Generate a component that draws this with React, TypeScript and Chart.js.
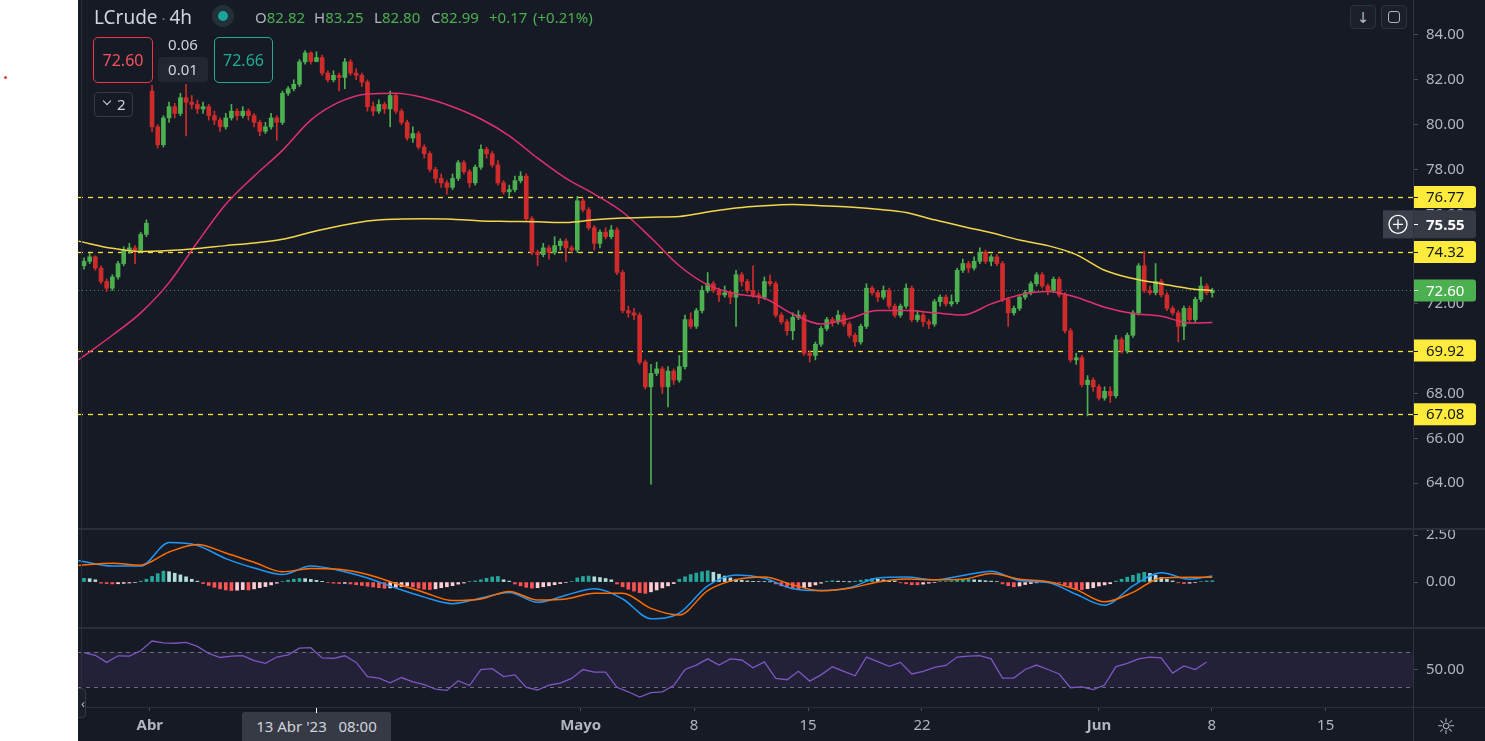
import { useEffect, useRef } from "react";
import { Chart, registerables } from "chart.js";

Chart.register(...registerables);

const FONT = "'Noto Sans', 'DejaVu Sans', sans-serif";
const BG = "#161A25";
const UP = "#4CAF50";
const DOWN = "#D02B2B";
const AXIS_TEXT = "#B2B5BE";

// 4h candles, index 0 = first candle on the left
const opens = [
  73.70, 73.90, 74.10, 73.60, 73.00, 72.70, 73.20, 73.80, 74.40, 74.50,
  74.40, 75.10, 81.50, 79.90, 79.10, 80.30, 80.80, 80.50, 81.20, 81.00,
  80.90, 80.70, 80.80, 80.40, 80.20, 79.90, 80.30, 80.60, 80.40, 80.60,
  80.40, 80.10, 79.70, 79.90, 80.30, 80.10, 81.40, 81.60, 81.80, 82.80,
  83.20, 82.82, 82.99, 82.30, 82.00, 82.20, 82.10, 82.80, 82.30, 82.20,
  81.90, 80.80, 80.60, 80.90, 80.70, 81.30, 80.60, 80.10, 79.40, 79.60,
  79.00, 78.70, 78.00, 77.60, 77.40, 77.20, 77.60, 78.30, 77.90, 77.40,
  78.10, 78.90, 78.70, 78.20, 77.40, 77.00, 77.10, 77.50, 77.70, 75.80,
  74.30, 74.20, 74.50, 74.30, 74.60, 74.80, 74.50, 74.40, 76.60, 76.20,
  75.40, 74.70, 75.20, 75.00, 75.30, 73.40, 71.70, 71.60, 71.50, 69.40,
  68.30, 68.90, 69.10, 68.30, 69.00, 68.60, 69.20, 71.30, 71.00, 71.70,
  72.60, 72.90, 72.60, 72.40, 72.50, 72.30, 73.30, 73.00, 72.60, 72.40,
  72.30, 73.00, 72.90, 71.50, 71.20, 70.80, 71.40, 71.50, 69.80, 69.70,
  70.20, 70.90, 71.30, 71.20, 71.50, 71.10, 70.60, 70.30, 71.00, 72.70,
  72.50, 72.30, 72.60, 71.90, 71.50, 71.90, 72.70, 71.30, 71.50, 71.20,
  71.10, 72.10, 72.30, 72.00, 72.10, 73.50, 73.80, 73.60, 73.90, 74.30,
  73.90, 74.10, 73.80, 72.20, 71.60, 71.80, 72.30, 72.50, 72.90, 73.30,
  72.80, 72.60, 73.10, 72.40, 70.80, 69.50, 69.60, 68.40, 68.60, 68.30,
  67.80, 68.10, 67.90, 70.40, 69.90, 70.60, 71.60, 73.70, 72.60, 72.50,
  73.00, 72.40, 71.80, 71.60, 71.00, 71.80, 71.30, 72.20, 72.80, 72.50,
];

const highs = [
  74.05, 74.25, 74.15, 73.70, 73.10, 73.30, 73.90, 74.55, 74.70, 74.60,
  75.20, 75.75, 81.75, 80.00, 80.40, 81.00, 80.95, 81.40, 81.80, 81.30,
  81.10, 81.00, 80.90, 80.60, 80.30, 80.50, 80.90, 80.70, 80.80, 80.70,
  80.50, 80.20, 80.10, 80.50, 80.40, 81.50, 81.70, 82.00, 82.90, 83.30,
  83.25, 83.25, 83.10, 82.40, 82.40, 82.30, 82.95, 82.90, 82.50, 82.30,
  82.00, 81.00, 81.10, 81.00, 81.50, 81.40, 80.70, 80.20, 79.90, 79.70,
  79.10, 78.80, 78.10, 77.80, 77.50, 77.80, 78.40, 78.40, 78.00, 78.20,
  79.10, 79.00, 78.80, 78.40, 77.50, 77.30, 77.70, 77.90, 77.80, 75.90,
  74.40, 74.70, 74.60, 75.00, 74.90, 74.90, 74.60, 76.80, 76.70, 76.30,
  75.50, 75.30, 75.40, 75.50, 75.40, 73.50, 71.90, 71.80, 71.60, 69.50,
  69.30, 69.40, 69.20, 69.20, 69.10, 69.70, 71.50, 71.60, 71.80, 72.80,
  73.40, 73.00, 72.70, 72.80, 72.60, 73.50, 73.40, 73.10, 73.70, 72.50,
  73.20, 73.30, 73.00, 71.60, 71.30, 71.60, 71.70, 71.60, 69.90, 70.30,
  71.00, 71.40, 71.40, 71.70, 71.60, 71.20, 70.70, 71.10, 72.90, 72.80,
  72.60, 72.80, 72.70, 72.00, 72.00, 72.90, 72.80, 71.70, 71.60, 71.30,
  72.20, 72.40, 72.40, 72.40, 73.60, 74.00, 73.90, 74.10, 74.50, 74.40,
  74.20, 74.20, 73.90, 72.30, 71.90, 72.40, 72.60, 73.00, 73.40, 73.40,
  72.90, 73.20, 73.20, 72.50, 70.90, 69.80, 69.70, 68.80, 68.70, 68.40,
  68.30, 68.30, 70.60, 70.50, 70.70, 71.70, 73.80, 74.35, 72.80, 73.80,
  73.10, 72.50, 71.90, 71.70, 71.90, 71.90, 72.30, 73.20, 72.90, 72.70,
];

const lows = [
  73.55, 73.80, 73.50, 72.90, 72.55, 72.60, 73.10, 73.70, 74.25, 73.80,
  74.30, 75.00, 79.70, 78.95, 79.00, 80.10, 80.30, 80.40, 79.50, 80.70,
  80.50, 80.50, 80.20, 80.00, 79.70, 79.80, 80.20, 80.20, 80.30, 80.20,
  79.90, 79.50, 79.60, 79.80, 79.30, 80.00, 81.30, 81.50, 81.70, 82.70,
  82.70, 82.80, 82.20, 81.90, 81.90, 81.50, 81.60, 82.20, 82.00, 81.70,
  80.60, 80.40, 80.50, 80.50, 79.90, 80.50, 80.00, 79.30, 79.20, 78.90,
  78.50, 77.90, 77.40, 77.20, 76.90, 77.10, 77.50, 77.80, 77.20, 77.30,
  78.00, 78.50, 78.10, 77.30, 76.90, 76.80, 77.00, 77.40, 75.70, 74.20,
  73.70, 74.10, 74.00, 74.20, 74.40, 73.90, 74.30, 74.30, 76.10, 75.30,
  74.40, 74.50, 74.90, 74.90, 73.30, 71.60, 71.40, 71.30, 69.30, 68.20,
  63.95, 68.80, 68.00, 67.40, 68.40, 68.50, 69.10, 70.90, 70.90, 71.60,
  72.50, 72.50, 72.10, 72.30, 72.00, 71.00, 72.80, 72.50, 72.30, 72.00,
  72.20, 72.80, 71.40, 71.10, 70.60, 70.40, 71.30, 69.70, 69.40, 69.50,
  70.10, 70.80, 71.00, 71.10, 71.00, 70.50, 70.10, 70.20, 70.90, 72.40,
  72.10, 72.20, 71.80, 71.40, 71.40, 71.80, 71.20, 71.20, 71.00, 70.90,
  71.00, 71.90, 71.90, 71.90, 72.00, 73.40, 73.40, 73.50, 73.80, 73.80,
  73.70, 73.70, 72.10, 71.00, 71.50, 71.70, 72.20, 72.40, 72.80, 72.70,
  72.40, 72.50, 72.30, 70.70, 69.40, 69.30, 68.30, 67.00, 68.10, 67.70,
  67.70, 67.60, 67.80, 69.80, 69.80, 70.50, 71.50, 72.50, 72.40, 72.40,
  72.30, 71.70, 71.50, 70.30, 70.40, 71.20, 71.20, 72.10, 72.40, 72.30,
];

const closes = [
  73.90, 74.10, 73.60, 73.00, 72.70, 73.20, 73.80, 74.40, 74.50, 74.40,
  75.10, 75.60, 79.90, 79.10, 80.30, 80.80, 80.50, 81.20, 81.00, 80.90,
  80.70, 80.80, 80.40, 80.20, 79.90, 80.30, 80.60, 80.40, 80.60, 80.40,
  80.10, 79.70, 79.90, 80.30, 80.10, 81.40, 81.60, 81.80, 82.80, 83.20,
  82.82, 82.99, 82.30, 82.00, 82.20, 82.10, 82.80, 82.30, 82.20, 81.90,
  80.80, 80.60, 80.90, 80.70, 81.30, 80.60, 80.10, 79.40, 79.60, 79.00,
  78.70, 78.00, 77.60, 77.40, 77.20, 77.60, 78.30, 77.90, 77.40, 78.10,
  78.90, 78.70, 78.20, 77.40, 77.00, 77.10, 77.50, 77.70, 75.80, 74.30,
  74.20, 74.50, 74.30, 74.60, 74.80, 74.50, 74.40, 76.60, 76.20, 75.40,
  74.70, 75.20, 75.00, 75.30, 73.40, 71.70, 71.60, 71.50, 69.40, 68.30,
  68.90, 69.10, 68.30, 69.00, 68.60, 69.20, 71.30, 71.00, 71.70, 72.60,
  72.90, 72.60, 72.40, 72.50, 72.30, 73.30, 73.00, 72.60, 72.40, 72.30,
  73.00, 72.90, 71.50, 71.20, 70.80, 71.40, 71.50, 69.80, 69.70, 70.20,
  70.90, 71.30, 71.20, 71.50, 71.10, 70.60, 70.30, 71.00, 72.70, 72.50,
  72.30, 72.60, 71.90, 71.50, 71.90, 72.70, 71.30, 71.50, 71.20, 71.10,
  72.10, 72.30, 72.00, 72.10, 73.50, 73.80, 73.60, 73.90, 74.30, 73.90,
  74.10, 73.80, 72.20, 71.60, 71.80, 72.30, 72.50, 72.90, 73.30, 72.80,
  72.60, 73.10, 72.40, 70.80, 69.50, 69.60, 68.40, 68.60, 68.30, 67.80,
  68.10, 67.90, 70.40, 69.90, 70.60, 71.60, 73.70, 72.60, 72.50, 73.00,
  72.40, 71.80, 71.60, 71.00, 71.80, 71.30, 72.20, 72.80, 72.50, 72.60,
];

// indicator samples, taken every 5 candles
const sampleIdx = [
  -1, 5, 10, 15, 20, 25, 30, 35, 40, 45, 50, 55, 60, 65, 70, 75, 80, 85, 90, 95,
  100, 105, 110, 115, 120, 125, 130, 135, 140, 145, 150, 155, 160, 165, 170, 175,
  180, 185, 190, 195, 199,
];

const maFast = [
  69.50, 70.60, 71.60, 72.95, 74.75, 76.45, 77.70, 78.85, 80.20, 81.00,
  81.37, 81.40, 81.20, 80.80, 80.25, 79.50, 78.50, 77.60, 76.90, 76.10,
  74.95, 73.70, 72.85, 72.45, 72.25, 71.55, 71.10, 71.35, 71.70, 71.70,
  71.60, 71.50, 72.00, 72.40, 72.55, 72.30, 71.85, 71.57, 71.45, 71.15, 71.17,
];

const maSlow = [
  74.80, 74.48, 74.34, 74.38, 74.47, 74.60, 74.72, 74.88, 75.20, 75.48,
  75.70, 75.78, 75.80, 75.78, 75.70, 75.68, 75.66, 75.63, 75.75, 75.83,
  75.87, 75.90, 76.10, 76.28, 76.38, 76.43, 76.38, 76.32, 76.22, 76.08,
  75.75, 75.45, 75.17, 74.85, 74.60, 74.20, 73.50, 73.13, 72.90, 72.68, 72.60,
];

const macdLine = [
  1.15, 0.85, 0.85, 2.10, 1.95, 1.25, 0.75, 0.40, 0.85, 0.62,
  0.22, -0.32, -0.80, -1.15, -0.85, -0.55, -1.08, -0.70, -0.35, -0.90,
  -1.95, -1.65, -0.20, 0.38, 0.20, -0.35, -0.45, -0.30, 0.22, 0.27,
  0.12, 0.35, 0.58, 0.08, -0.02, -0.65, -1.23, -0.20, 0.50, 0.15, 0.32,
];

const signalLine = [
  0.88, 1.00, 0.90, 1.60, 2.00, 1.55, 1.05, 0.55, 0.72, 0.68,
  0.40, -0.08, -0.55, -0.98, -0.90, -0.50, -0.96, -0.90, -0.60, -0.60,
  -1.40, -1.75, -0.45, 0.13, 0.27, -0.15, -0.46, -0.33, 0.00, 0.16,
  0.12, 0.15, 0.46, 0.15, 0.02, -0.40, -1.05, -0.55, 0.22, 0.25, 0.25,
];

// one histogram bar per candle
const macdHist = [
  0.20, 0.18, 0.12, -0.06, -0.08, -0.10, -0.09, -0.07, -0.05, -0.03,
  0.05, 0.15, 0.30, 0.45, 0.58, 0.55, 0.47, 0.38, 0.28, 0.15,
  0.05, -0.08, -0.18, -0.28, -0.36, -0.42, -0.45, -0.43, -0.40, -0.42,
  -0.36, -0.30, -0.24, -0.15, -0.06, 0.03, 0.10, 0.15, 0.19, 0.18,
  0.14, 0.09, 0.04, -0.03, -0.06, -0.08, -0.07, -0.10, -0.14, -0.18,
  -0.22, -0.26, -0.30, -0.33, -0.31, -0.28, -0.24, -0.20, -0.26, -0.33,
  -0.38, -0.40, -0.36, -0.30, -0.25, -0.19, -0.11, -0.05, 0.02, 0.06,
  0.12, 0.20, 0.27, 0.30, 0.12, 0.05, -0.10, -0.20, -0.28, -0.32,
  -0.30, -0.25, -0.20, -0.14, -0.08, -0.03, 0.03, 0.22, 0.30, 0.32,
  0.28, 0.24, 0.19, 0.12, -0.10, -0.25, -0.38, -0.48, -0.56, -0.60,
  -0.52, -0.42, -0.31, -0.20, -0.08, 0.15, 0.28, 0.40, 0.48, 0.55,
  0.60, 0.52, 0.42, 0.32, 0.22, 0.15, 0.10, 0.06, 0.04, 0.03,
  0.02, 0.01, -0.10, -0.20, -0.28, -0.34, -0.35, -0.30, -0.24, -0.15,
  -0.06, 0.04, 0.07, 0.05, 0.02, 0.01, 0.05, 0.10, 0.14, 0.18,
  0.16, 0.12, 0.09, 0.06, -0.04, -0.09, -0.14, -0.15, -0.11, -0.06,
  -0.03, 0.02, 0.03, 0.06, 0.10, 0.13, 0.15, 0.12, 0.10, 0.07,
  0.05, 0.03, -0.10, -0.19, -0.25, -0.21, -0.13, -0.08, -0.04, 0.02,
  0.03, -0.02, -0.05, -0.15, -0.26, -0.36, -0.40, -0.35, -0.30, -0.21,
  -0.15, -0.09, 0.05, 0.15, 0.26, 0.36, 0.45, 0.52, 0.46, 0.36,
  0.25, 0.15, 0.06, -0.04, -0.08, -0.06, -0.03, 0.03, 0.06, 0.07,
];

// RSI, one value every 2 candles
const rsiValues = [
  68.9, 66, 58, 65.4, 65, 71, 82, 80, 79.5, 80.5,
  76, 68, 63.5, 65, 65.5, 60, 57, 64, 66.5, 74,
  74.5, 63, 62.5, 65.4, 58, 42, 40.4, 35, 41, 36,
  33, 28, 26.5, 37.5, 32, 50, 51, 42, 44, 30,
  27, 32.6, 34.8, 40, 50, 47, 47, 30, 25, 19,
  24, 25, 32, 50, 55, 62, 55, 62, 60.7, 52,
  58.5, 40, 38.5, 48, 37, 44, 53, 48, 43, 64,
  58.8, 53.5, 58, 45, 48, 52.5, 54.5, 64, 65, 65.5,
  62, 40.4, 40.4, 50, 55, 50, 45, 29.5, 30.5, 27.5,
  32.6, 53.2, 57, 62, 64, 63, 46, 54, 50, 58.5,
];

const levels = [76.77, 74.32, 69.92, 67.08];
const lastPrice = 72.6;
const crossPrice = 75.55;
const priceTicks = [64, 66, 68, 70, 72, 74, 76, 78, 80, 82, 84];

const timeTicks = [11.6, 87.6, 107.6, 127.7, 147.8, 179.0, 198.9, 219.0];
const timeLabels = ["Abr", "Mayo", "8", "15", "22", "Jun", "8", "15"];
const timeBold = [true, true, false, false, false, true, false, false];

const X_MIN = -1.06;
const X_MAX = 234.4;

const candleIdx = closes.map((_, i) => i);
const candleColors = closes.map((c, i) => (c >= opens[i] ? UP : DOWN));
const histColors = macdHist.map((v, i) => {
  const prev = i > 0 ? macdHist[i - 1] : v;
  if (v >= 0) return v >= prev ? "#26A69A" : "#B2DFDB";
  return v <= prev ? "#FF5252" : "#FFCDD2";
});

const fitY = (s: any) => {
  s.width = 72;
  s.paddingTop = 0;
  s.paddingBottom = 0;
};

const hiddenX = { type: "linear", min: X_MIN, max: X_MAX, bounds: "data", offset: false, display: false };

const yBase = (min: number, max: number, ticks: number[]) => ({
  position: "right",
  min,
  max,
  bounds: "data",
  afterBuildTicks: (s: any) => {
    s.ticks = ticks.map((v) => ({ value: v }));
  },
  afterFit: fitY,
  ticks: {
    color: AXIS_TEXT,
    padding: 8,
    font: { family: FONT, size: 15 },
    callback: (v: any) => Number(v).toFixed(2),
  },
  grid: { display: true, drawOnChartArea: false, drawTicks: true, tickLength: 5, color: "#4A4E59" },
  border: { display: false },
});

const baseOptions = {
  animation: false,
  responsive: true,
  maintainAspectRatio: false,
  events: [],
  layout: { padding: 0 },
  plugins: { legend: { display: false }, tooltip: { enabled: false } },
};

function priceTag(ctx: any, left: number, py: number, text: string, bg: string, fg: string, h: number, bold: boolean) {
  ctx.fillStyle = bg;
  ctx.beginPath();
  ctx.roundRect(left, py - h / 2, 63, h, [0, 3, 3, 0]);
  ctx.fill();
  ctx.strokeStyle = fg;
  ctx.lineWidth = 1;
  ctx.beginPath();
  ctx.moveTo(left, Math.round(py) + 0.5);
  ctx.lineTo(left + 5, Math.round(py) + 0.5);
  ctx.stroke();
  ctx.fillStyle = fg;
  ctx.font = `${bold ? "bold " : ""}15px ${FONT}`;
  ctx.textAlign = "left";
  ctx.textBaseline = "middle";
  ctx.fillText(text, left + 13, py + 1);
}

const levelPlugin = {
  id: "levels",
  beforeDatasetsDraw(chart: any) {
    const { ctx, chartArea, scales } = chart;
    const y = scales.y;
    ctx.save();
    ctx.lineWidth = 1.3;
    ctx.setLineDash([5, 5]);
    ctx.strokeStyle = "#F5E23C";
    levels.forEach((v) => {
      const py = Math.round(y.getPixelForValue(v)) + 0.5;
      ctx.beginPath();
      ctx.moveTo(chartArea.left, py);
      ctx.lineTo(chartArea.right, py);
      ctx.stroke();
    });
    ctx.lineWidth = 1;
    ctx.setLineDash([1, 3]);
    ctx.strokeStyle = "rgba(96,170,110,0.8)";
    const lp = Math.round(y.getPixelForValue(lastPrice)) + 0.5;
    ctx.beginPath();
    ctx.moveTo(chartArea.left, lp);
    ctx.lineTo(chartArea.right, lp);
    ctx.stroke();
    ctx.restore();
  },
  afterDraw(chart: any) {
    const { ctx, chartArea, scales } = chart;
    const y = scales.y;
    const left = chartArea.right;
    ctx.save();
    levels.forEach((v) => priceTag(ctx, left, y.getPixelForValue(v), v.toFixed(2), "#FFEB3B", "#131722", 22, false));
    priceTag(ctx, left, y.getPixelForValue(lastPrice), lastPrice.toFixed(2), "#4CAF50", "#FFFFFF", 22, false);
    const cp = y.getPixelForValue(crossPrice);
    ctx.fillStyle = "#3B3F4B";
    ctx.fillRect(left - 30, cp - 14, 30, 28);
    priceTag(ctx, left, cp, crossPrice.toFixed(2), "#363A45", "#FFFFFF", 28, true);
    ctx.strokeStyle = "#FFFFFF";
    ctx.lineWidth = 1.3;
    ctx.beginPath();
    ctx.arc(left - 15, cp, 9, 0, Math.PI * 2);
    ctx.stroke();
    ctx.beginPath();
    ctx.moveTo(left - 20, cp);
    ctx.lineTo(left - 10, cp);
    ctx.moveTo(left - 15, cp - 5);
    ctx.lineTo(left - 15, cp + 5);
    ctx.stroke();
    ctx.restore();
  },
};

const rsiBandPlugin = {
  id: "rsiBand",
  beforeDatasetsDraw(chart: any) {
    const { ctx, chartArea, scales } = chart;
    const y = scales.y;
    const top = y.getPixelForValue(70);
    const bottom = y.getPixelForValue(30);
    ctx.save();
    ctx.fillStyle = "rgba(126,87,194,0.12)";
    ctx.fillRect(chartArea.left, top, chartArea.right - chartArea.left, bottom - top);
    ctx.strokeStyle = "#6A6D78";
    ctx.lineWidth = 1;
    ctx.setLineDash([4, 4]);
    [top, bottom].forEach((py) => {
      ctx.beginPath();
      ctx.moveTo(chartArea.left, Math.round(py) + 0.5);
      ctx.lineTo(chartArea.right, Math.round(py) + 0.5);
      ctx.stroke();
    });
    ctx.restore();
  },
};

const lineSet = (xs: number[], ys: number[], color: string, width: number, smooth: boolean) => ({
  type: "line",
  data: xs.map((x, k) => ({ x, y: ys[k] })),
  borderColor: color,
  borderWidth: width,
  pointRadius: 0,
  cubicInterpolationMode: smooth ? "monotone" : "default",
  tension: 0,
  order: 0,
});

export default function App() {
  const mainRef = useRef<HTMLCanvasElement>(null);
  const macdRef = useRef<HTMLCanvasElement>(null);
  const rsiRef = useRef<HTMLCanvasElement>(null);

  useEffect(() => {
    const charts: Chart[] = [];

    if (mainRef.current) {
      charts.push(
        new Chart(mainRef.current, {
          type: "bar",
          data: {
            datasets: [
              lineSet(sampleIdx, maSlow, "#F2D64B", 1.5, true),
              lineSet(sampleIdx, maFast, "#E0306E", 1.5, true),
              {
                type: "bar",
                data: candleIdx.map((i) => ({ x: i, y: [lows[i], highs[i]] })),
                backgroundColor: candleColors,
                borderWidth: 0,
                barThickness: 1,
                grouped: false,
                order: 2,
              },
              {
                type: "bar",
                data: candleIdx.map((i) => ({ x: i, y: [opens[i], closes[i]] })),
                backgroundColor: candleColors,
                borderWidth: 0,
                barThickness: 4,
                minBarLength: 1,
                grouped: false,
                order: 1,
              },
            ],
          },
          options: {
            ...baseOptions,
            scales: { x: hiddenX, y: yBase(62.0, 85.56, priceTicks) },
          },
          plugins: [levelPlugin],
        } as any)
      );
    }

    if (macdRef.current) {
      charts.push(
        new Chart(macdRef.current, {
          type: "bar",
          data: {
            datasets: [
              lineSet(sampleIdx, signalLine, "#FF6D00", 1.5, true),
              lineSet(sampleIdx, macdLine, "#2196F3", 1.5, true),
              {
                type: "bar",
                data: candleIdx.map((i) => ({ x: i, y: macdHist[i] })),
                backgroundColor: histColors,
                borderWidth: 0,
                barThickness: 3,
                grouped: false,
                order: 1,
              },
            ],
          },
          options: {
            ...baseOptions,
            scales: { x: hiddenX, y: yBase(-2.39, 2.77, [0, 2.5]) },
          },
        } as any)
      );
    }

    if (rsiRef.current) {
      charts.push(
        new Chart(rsiRef.current, {
          type: "line",
          data: {
            datasets: [lineSet(rsiValues.map((_, k) => k * 2), rsiValues, "#7E57C2", 1.3, false)],
          },
          options: {
            ...baseOptions,
            scales: {
              x: {
                type: "linear",
                min: X_MIN,
                max: X_MAX,
                bounds: "data",
                offset: false,
                position: "bottom",
                afterBuildTicks: (s: any) => {
                  s.ticks = timeTicks.map((v) => ({ value: v }));
                },
                afterFit: (s: any) => {
                  s.height = 34;
                  s.paddingLeft = 0;
                  s.paddingRight = 0;
                },
                ticks: {
                  autoSkip: false,
                  maxRotation: 0,
                  color: AXIS_TEXT,
                  padding: 6,
                  font: (c: any) => ({ family: FONT, size: 15, weight: timeBold[c.index] ? "bold" : "normal" }),
                  callback: (_v: any, i: number) => timeLabels[i],
                },
                grid: { display: true, drawOnChartArea: false, drawTicks: true, tickLength: 4, color: "#4A4E59" },
                border: { display: false },
              },
              y: yBase(7.9, 95.5, [50]),
            },
          },
          plugins: [rsiBandPlugin],
        } as any)
      );
    }

    return () => {
      charts.forEach((c) => c.destroy());
    };
  }, []);

  const abs = (s: any) => ({ position: "absolute", ...s }) as any;
  const green = { color: "#4CAF50" };
  const gray = { color: AXIS_TEXT };
  const ohlc = (left: number) => abs({ left, top: 5, height: 24, lineHeight: "24px", fontSize: 15, whiteSpace: "pre" });

  return (
    <div style={abs({ position: "fixed", left: 0, top: 0, width: 1485, height: 741, background: "#FFFFFF", overflow: "hidden", fontFamily: FONT })}>
      <div style={abs({ left: 4, top: 76, width: 3, height: 3, borderRadius: "50%", background: "#E53935" })} />
      <div style={abs({ left: 78, top: 0, width: 1407, height: 741, background: BG, overflow: "hidden" })}>
        <div style={abs({ left: 0, top: 0, width: 1407, height: 528 })}>
          <canvas ref={mainRef} />
        </div>
        <div style={abs({ left: 0, top: 530, width: 1407, height: 97 })}>
          <canvas ref={macdRef} />
        </div>
        <div style={abs({ left: 0, top: 629, width: 1407, height: 112 })}>
          <canvas ref={rsiRef} />
        </div>

        <div style={abs({ left: 0, top: 528, width: 1407, height: 2, background: "#2A2E39" })} />
        <div style={abs({ left: 0, top: 627, width: 1407, height: 2, background: "#2A2E39" })} />
        <div style={abs({ left: 0, top: 707, width: 1407, height: 1, background: "#2A2E39" })} />
        <div style={abs({ left: 1335, top: 0, width: 1, height: 741, background: "#2E323D" })} />
        <div style={abs({ left: 3, top: 0, width: 1, height: 707, background: "#2A2E39" })} />

        <div style={abs({ left: 16, top: 4, height: 26, lineHeight: "26px", fontSize: 19, color: "#D1D4DC", whiteSpace: "pre" })}>
          LCrude<span style={{ color: "#787B86", fontSize: 15 }}> · </span>4h
        </div>
        <div style={abs({ left: 134, top: 5, width: 22, height: 22, borderRadius: "50%", background: "#23303A" })} />
        <div style={abs({ left: 140, top: 11, width: 10, height: 10, borderRadius: "50%", background: "#1BA39C" })} />
        <div style={ohlc(177)}><span style={gray}>O</span><span style={green}>82.82</span></div>
        <div style={ohlc(236)}><span style={gray}>H</span><span style={green}>83.25</span></div>
        <div style={ohlc(296)}><span style={gray}>L</span><span style={green}>82.80</span></div>
        <div style={ohlc(353)}><span style={gray}>C</span><span style={green}>82.99</span></div>
        <div style={ohlc(411)}><span style={green}>+0.17</span></div>
        <div style={ohlc(455)}><span style={green}>(+0.21%)</span></div>

        <div style={abs({ left: 15, top: 37, width: 58, height: 44, border: "1px solid #F23645", borderRadius: 5, color: "#F7525F", fontSize: 16, lineHeight: "44px", textAlign: "center" })}>72.60</div>
        <div style={abs({ left: 80, top: 34, width: 50, height: 20, lineHeight: "20px", fontSize: 15, color: "#D1D4DC", textAlign: "center" })}>0.06</div>
        <div style={abs({ left: 80, top: 57, width: 50, height: 25, lineHeight: "25px", fontSize: 15, color: "#D1D4DC", textAlign: "center", background: "#222631", borderRadius: 4 })}>0.01</div>
        <div style={abs({ left: 136, top: 37, width: 57, height: 44, border: "1px solid #22AB94", borderRadius: 5, color: "#22AB94", fontSize: 16, lineHeight: "44px", textAlign: "center" })}>72.66</div>
        <div style={abs({ left: 16, top: 92, width: 37, height: 23, border: "1px solid #363A45", borderRadius: 4, color: "#D1D4DC", fontSize: 15, lineHeight: "23px" })}>
          <span style={abs({ left: 9, top: 5, width: 5, height: 5, borderRight: "1.5px solid #D1D4DC", borderBottom: "1.5px solid #D1D4DC", transform: "rotate(45deg)" })} />
          <span style={abs({ left: 22, top: 0 })}>2</span>
        </div>

        <div style={abs({ left: 1272, top: 5, width: 24, height: 22, border: "1px solid #2E323D", borderRadius: 4, background: "#1B1F2A", color: "#B2B5BE", fontSize: 15, lineHeight: "22px", textAlign: "center" })}>↓</div>
        <div style={abs({ left: 1303, top: 5, width: 24, height: 22, border: "1px solid #2E323D", borderRadius: 4, background: "#1B1F2A" })}>
          <div style={abs({ left: 6, top: 5, width: 10, height: 10, border: "1.5px solid #B2B5BE", borderRadius: 3 })} />
        </div>

        <div style={abs({ left: 164, top: 712, width: 149, height: 29, background: "#363A45", borderRadius: "3px 3px 0 0", color: "#D1D4DC", fontSize: 15, lineHeight: "29px", textAlign: "center", whiteSpace: "pre" })}>
          {"13 Abr '23   08:00"}
        </div>
        <div style={abs({ left: 238, top: 708, width: 1, height: 5, background: "#FFFFFF" })} />
        <div style={abs({ left: 1355, top: 711, width: 26, height: 28, color: "#B2B5BE", fontSize: 22, lineHeight: "28px", textAlign: "center" })}>☼</div>
        <div style={abs({ left: -6, top: 688, width: 12, height: 28, border: "1px solid #363A45", borderRadius: 4, background: "#1B1F2A", color: "#B2B5BE", fontSize: 13, lineHeight: "28px", textAlign: "right" })}>‹</div>
      </div>
    </div>
  );
}
